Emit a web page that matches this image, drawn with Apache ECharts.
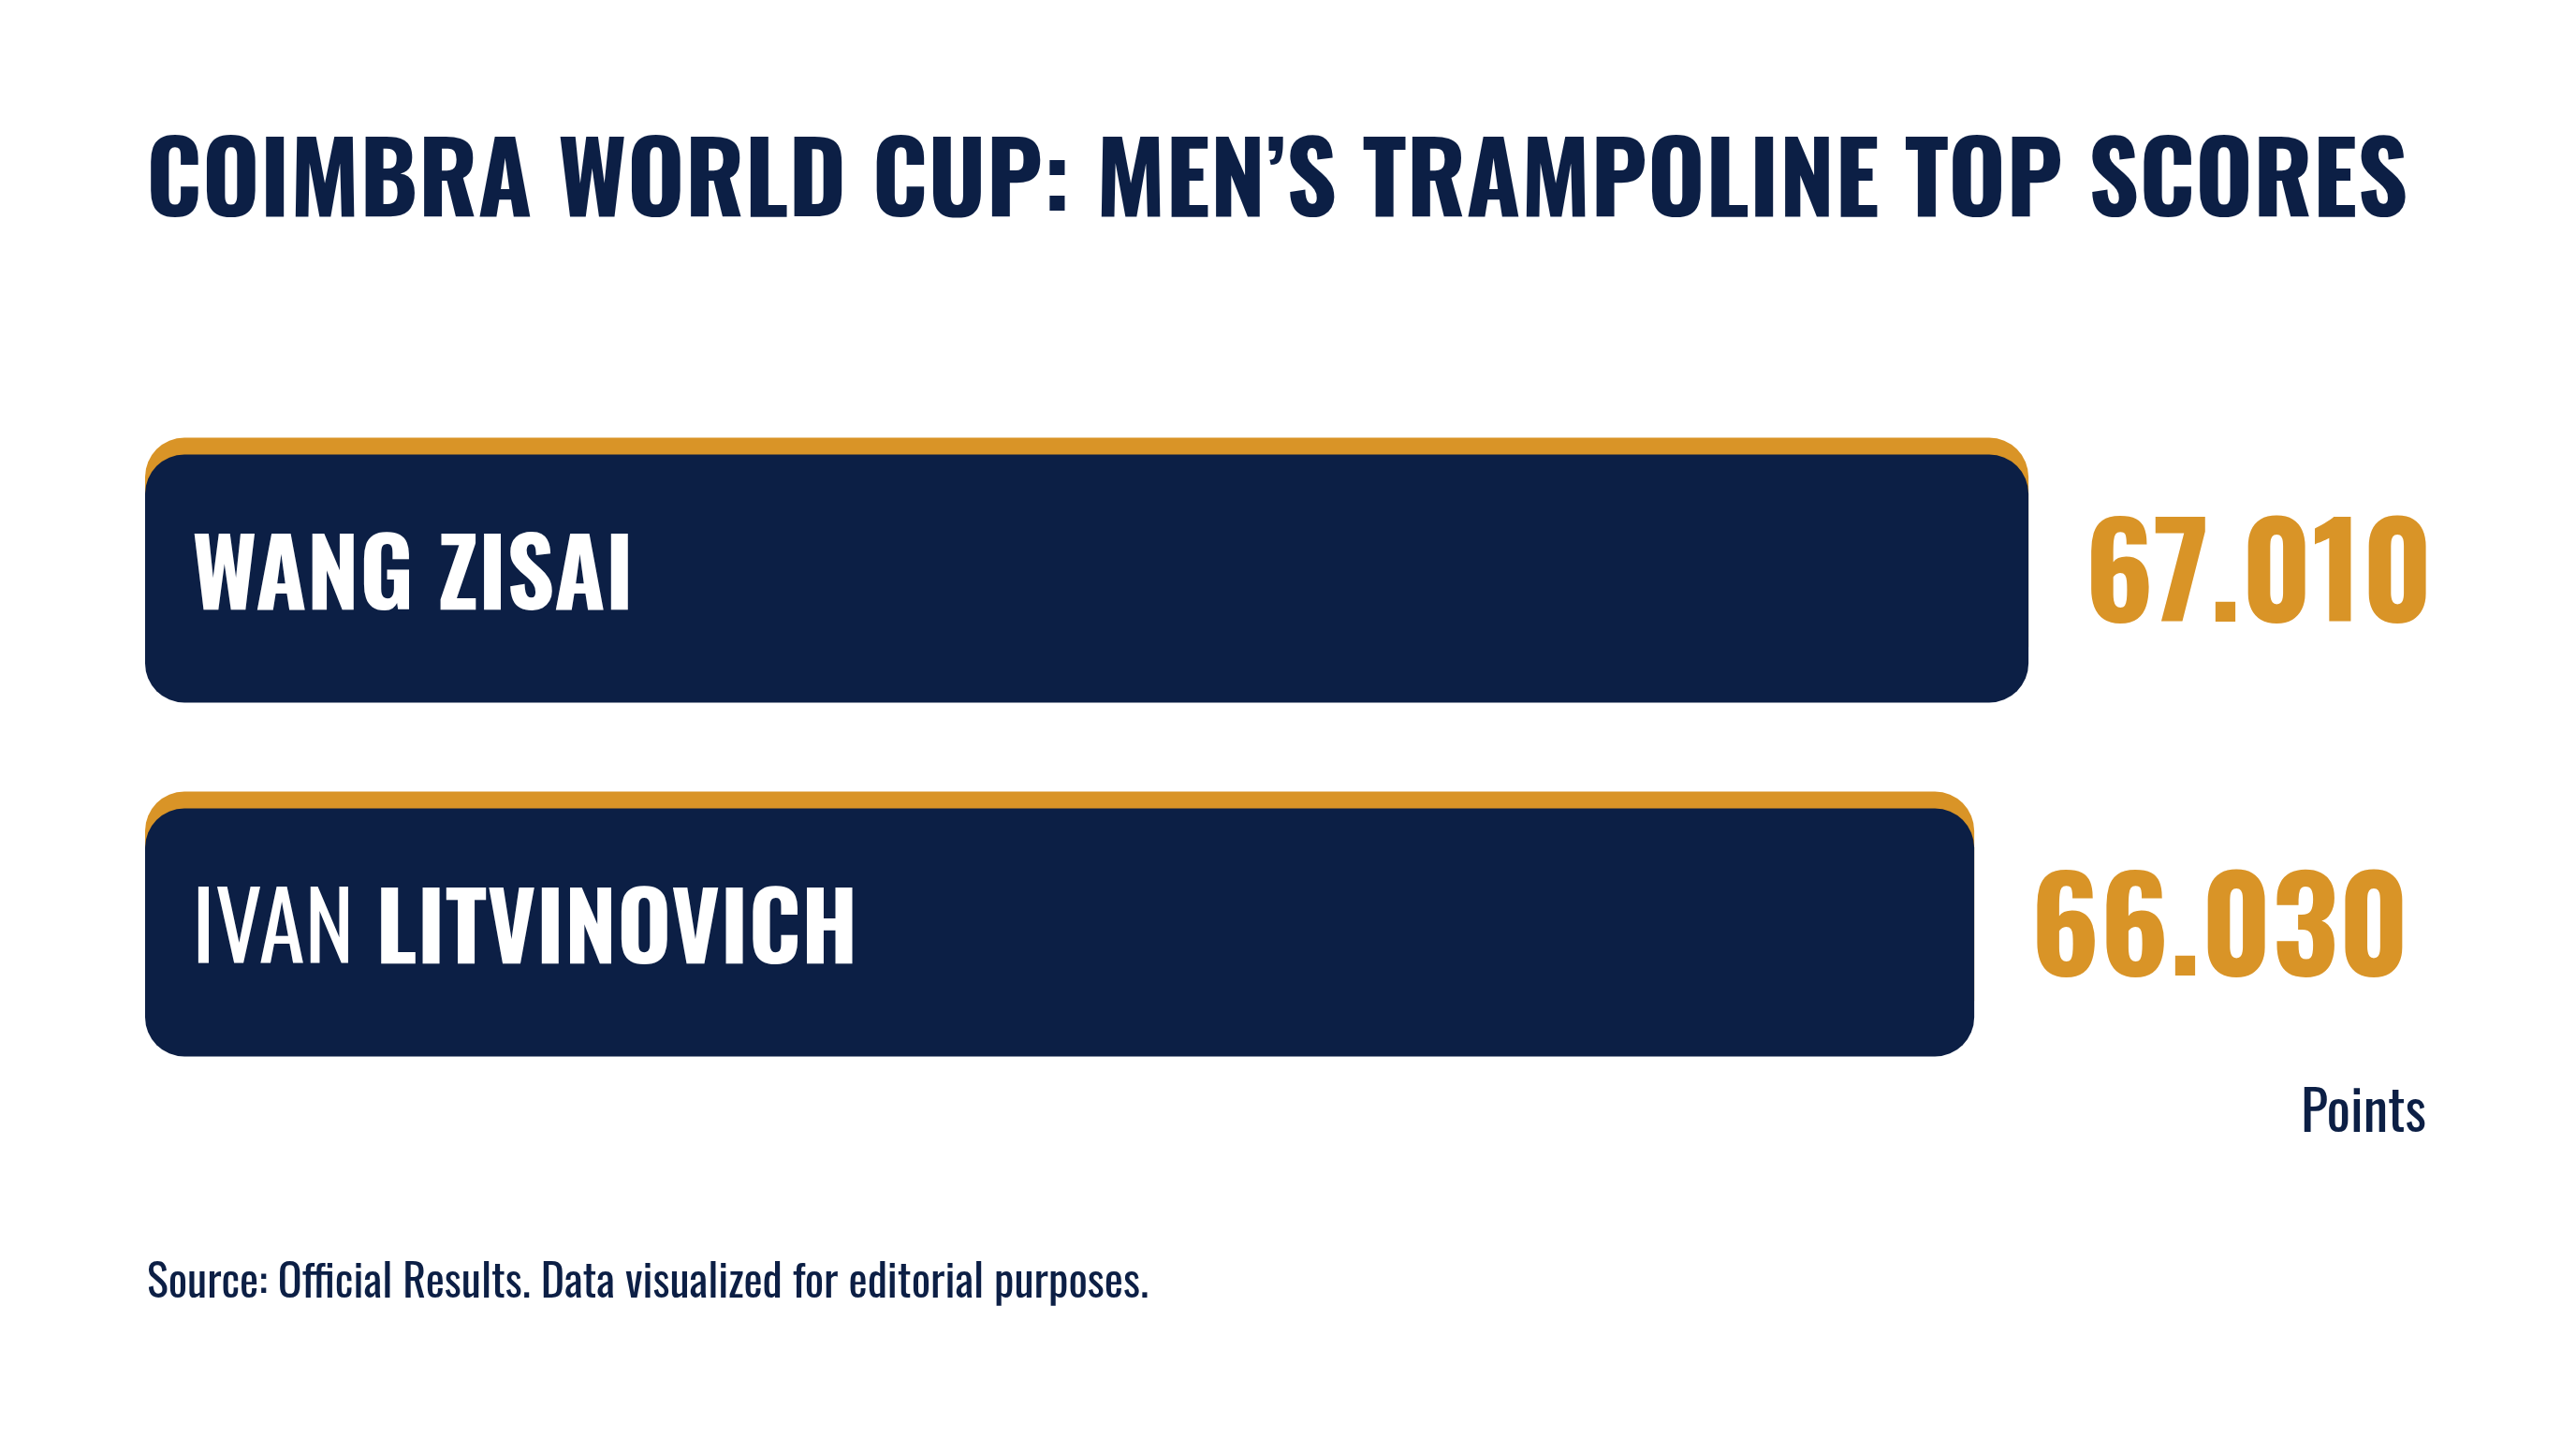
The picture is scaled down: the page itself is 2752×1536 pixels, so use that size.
<!DOCTYPE html>
<html>
<head>
<meta charset="utf-8">
<script src="https://cdn.jsdelivr.net/npm/echarts@6/dist/echarts.min.js"></script>
<style>
html,body{margin:0;padding:0;background:#ffffff;}
#chart{width:2752px;height:1536px;}
</style>
</head>
<body>
<div id="chart"></div>
<script>
var categories = ['WANG ZISAI', 'IVAN LITVINOVICH'];
var nameRegularPart = ['', 'IVAN'];
var nameBoldPart = ['WANG ZISAI', 'LITVINOVICH'];
var scores = [67.010, 66.030];
var titleText = 'COIMBRA WORLD CUP: MEN\u2019S TRAMPOLINE TOP SCORES';
var sourceText = 'Source: Official Results. Data visualized for editorial purposes.';
var unitText = 'Points';

var NAVY = '#0C1F45';
var ORANGE = '#D99427';
var FONT = 'Oswald, "Roboto Condensed", sans-serif';

var chart = echarts.init(document.getElementById('chart'), null, {renderer: 'canvas'});

var option = {
  backgroundColor: '#ffffff',
  animation: false,
  title: [{
    text: titleText,
    left: 151,
    top: 141,
    textStyle: {fontFamily: FONT, fontWeight: 'bold', fontSize: 106, color: NAVY}
  }, {
    text: sourceText,
    left: 152,
    top: 1342,
    textStyle: {fontFamily: FONT, fontWeight: 'normal', fontSize: 48, color: NAVY}
  }, {
    text: unitText,
    right: 2752 - 2597,
    top: 1156,
    textStyle: {fontFamily: FONT, fontWeight: 'normal', fontSize: 60, color: NAVY}
  }],
  grid: {left: 155, right: 408, top: 429, bottom: 351, containLabel: false},
  xAxis: {
    type: 'value', min: 33, max: 70,
    show: false, splitLine: {show: false}
  },
  yAxis: {
    type: 'category', data: categories, inverse: true,
    axisLine: {show: false}, axisTick: {show: false}, axisLabel: {show: false}
  },
  series: [{
    type: 'bar',
    data: scores,
    barWidth: 265,
    itemStyle: {
      color: NAVY,
      borderRadius: 42,
      shadowColor: ORANGE,
      shadowBlur: 0,
      shadowOffsetX: 0,
      shadowOffsetY: -18
    },
    label: {show: false},
    z: 2
  }, {
    type: 'bar',
    data: scores,
    barWidth: 265,
    barGap: '-100%',
    itemStyle: {color: 'rgba(0,0,0,0)'},
    silent: true,
    z: 3,
    label: {
      show: true,
      position: 'insideLeft',
      distance: 50,
      offset: [0, 2],
      formatter: function (p) {
        var i = p.dataIndex;
        var reg = nameRegularPart[i];
        return (reg ? '{r|' + reg + '} ' : '') + '{b|' + nameBoldPart[i] + '}';
      },
      rich: {
        r: {fontFamily: FONT, fontWeight: 'normal', fontSize: 100, color: '#ffffff'},
        b: {fontFamily: FONT, fontWeight: 'bold', fontSize: 100, color: '#ffffff'}
      },
      fontFamily: FONT, fontSize: 100, color: '#ffffff'
    }
  }, {
    type: 'bar',
    data: scores,
    barWidth: 265,
    barGap: '-100%',
    itemStyle: {color: 'rgba(0,0,0,0)'},
    silent: true,
    z: 3,
    label: {
      show: true,
      position: 'right',
      distance: 60,
      offset: [0, 4],
      formatter: function (p) { return scores[p.dataIndex].toFixed(3); },
      fontFamily: FONT, fontWeight: 'bold', fontSize: 138, color: ORANGE
    }
  }]
};
chart.setOption(option);
</script>
</body>
</html>
